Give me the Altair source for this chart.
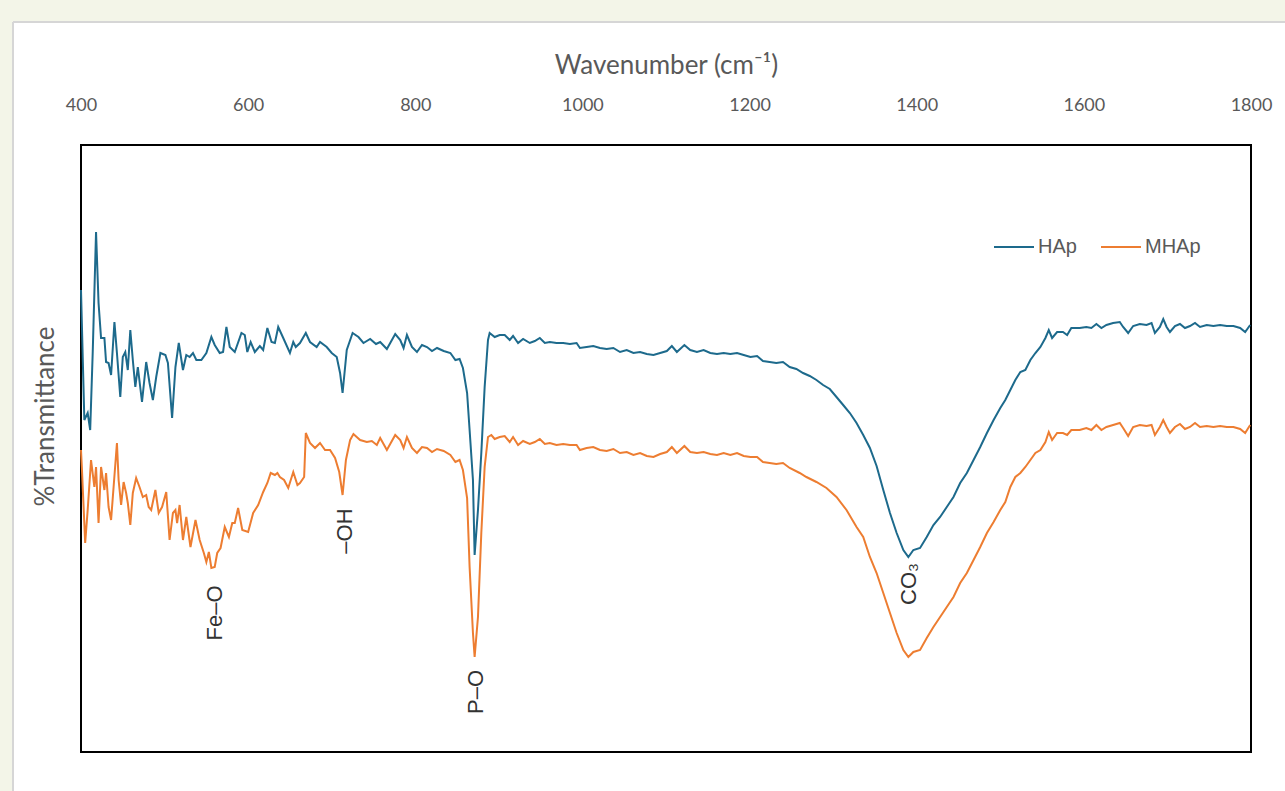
import altair as alt
import pandas as pd

# ---------------- data ----------------
hap_wn = [400, 404, 408, 411, 414, 418, 421, 424, 428, 430,
          433, 436, 440, 443, 447, 450, 453, 456, 459, 462,
          465, 468, 473, 478, 482, 486, 490, 495, 501, 504,
          509, 513, 517, 522, 526, 530, 534, 538, 544, 550,
          556, 560, 566, 570, 574, 578, 584, 592, 596, 599,
          603, 608, 614, 618, 623, 628, 632, 636, 642, 650,
          654, 657, 662, 669, 674, 682, 686, 694, 700, 706,
          710, 713, 718, 725, 732, 738, 746, 753, 758, 766,
          776, 782, 786, 790, 796, 802, 808, 814, 820, 826,
          834, 842, 848, 853, 857, 862, 865, 869, 871, 875,
          879, 883, 887, 889, 895, 901, 907, 913, 917, 923,
          929, 937, 943, 949, 955, 961, 969, 977, 985, 993,
          997, 1005, 1013, 1021, 1029, 1037, 1045, 1053, 1061, 1069,
          1077, 1085, 1093, 1101, 1107, 1113, 1122, 1129, 1137, 1145,
          1153, 1161, 1169, 1177, 1185, 1193, 1201, 1209, 1216, 1224,
          1232, 1240, 1248, 1256, 1264, 1272, 1280, 1288, 1296, 1304,
          1312, 1320, 1328, 1336, 1344, 1352, 1360, 1368, 1376, 1384,
          1390, 1396, 1404, 1412, 1420, 1428, 1436, 1444, 1452, 1460,
          1468, 1476, 1484, 1492, 1500, 1506, 1512, 1518, 1524, 1530,
          1536, 1542, 1548, 1554, 1558, 1562, 1568, 1575, 1580, 1585,
          1595, 1603, 1609, 1615, 1621, 1627, 1635, 1643, 1647, 1653,
          1659, 1667, 1675, 1681, 1685, 1691, 1695, 1699, 1703, 1709,
          1715, 1721, 1727, 1733, 1739, 1747, 1755, 1763, 1771, 1779,
          1787, 1793, 1799]

hap_t = [46.2, 33.2, 33.9, 32.2, 39.9, 52.0, 44.9, 41.4, 41.4, 39.0,
         38.9, 37.7, 43.0, 39.9, 35.5, 39.5, 40.0, 38.2, 42.2, 39.2,
         36.5, 38.5, 35.0, 39.0, 36.9, 35.2, 37.5, 39.9, 39.7, 38.9,
         33.4, 38.5, 40.9, 38.2, 39.7, 39.5, 39.9, 39.2, 39.2, 39.9,
         41.5, 40.7, 39.9, 40.0, 42.5, 40.5, 40.0, 41.9, 41.7, 40.0,
         41.0, 40.0, 40.6, 40.2, 42.4, 41.0, 40.9, 42.5, 41.4, 39.9,
         41.0, 40.5, 40.9, 41.9, 41.0, 40.5, 41.0, 40.5, 39.9, 39.5,
         37.9, 35.9, 40.2, 41.9, 41.5, 40.9, 41.3, 40.8, 41.0, 40.3,
         41.8, 41.2, 40.4, 41.7, 40.5, 40.0, 40.7, 40.5, 40.1, 40.4,
         40.1, 39.9, 39.2, 39.3, 38.4, 35.9, 32.2, 27.2, 19.7, 24.2,
         29.9, 36.5, 41.2, 41.9, 41.5, 41.7, 41.7, 41.2, 41.6, 40.9,
         41.3, 40.9, 41.1, 41.4, 40.9, 41.0, 40.9, 40.9, 40.8, 40.9,
         40.4, 40.5, 40.6, 40.4, 40.3, 40.4, 40.0, 40.2, 39.9, 40.0,
         39.8, 39.7, 39.9, 40.1, 40.6, 40.0, 40.7, 40.2, 40.0, 40.2,
         39.9, 39.8, 39.9, 39.8, 39.9, 39.7, 39.5, 39.6, 39.1, 39.0,
         38.9, 39.0, 38.5, 38.3, 37.9, 37.6, 37.2, 36.7, 36.3, 35.5,
         34.7, 33.9, 32.9, 31.7, 30.4, 28.6, 26.2, 23.9, 21.9, 20.2,
         19.5, 20.2, 20.4, 21.5, 22.7, 23.5, 24.5, 25.5, 26.9, 27.9,
         29.2, 30.5, 31.9, 33.2, 34.4, 35.2, 36.2, 37.2, 38.0, 38.2,
         39.2, 39.9, 40.5, 41.4, 42.2, 41.4, 42.0, 42.0, 41.7, 42.4,
         42.4, 42.5, 42.4, 42.8, 42.4, 42.7, 42.9, 43.0, 42.5, 41.9,
         42.6, 42.8, 42.7, 42.9, 41.9, 42.5, 43.3, 42.5, 42.0, 42.6,
         42.8, 42.4, 42.6, 42.9, 42.5, 42.7, 42.6, 42.7, 42.6, 42.6,
         42.4, 42.0, 42.7]

mhap_wn = [400, 401, 405, 408, 412, 416, 418, 421, 424, 428,
           430, 433, 436, 439, 443, 445, 448, 451, 454, 456,
           459, 462, 466, 470, 474, 478, 481, 484, 489, 493,
           497, 502, 506, 510, 513, 515, 518, 522, 526, 531,
           537, 542, 547, 550, 553, 556, 560, 563, 567, 572,
           577, 581, 584, 588, 593, 600, 606, 612, 618, 623,
           627, 632, 635, 638, 643, 648, 654, 659, 662, 667,
           669, 674, 680, 686, 692, 698, 704, 709, 713, 717,
           722, 726, 734, 742, 748, 754, 758, 766, 776, 782,
           786, 790, 796, 802, 808, 814, 820, 826, 834, 842,
           848, 853, 857, 862, 865, 869, 871, 875, 879, 883,
           887, 891, 895, 901, 907, 913, 917, 923, 929, 937,
           943, 949, 955, 961, 969, 977, 985, 993, 997, 1005,
           1013, 1021, 1029, 1037, 1045, 1053, 1061, 1069, 1077, 1085,
           1093, 1101, 1107, 1113, 1122, 1129, 1137, 1145, 1153, 1161,
           1169, 1177, 1185, 1193, 1201, 1209, 1216, 1224, 1232, 1240,
           1248, 1260, 1268, 1280, 1292, 1304, 1316, 1328, 1336, 1344,
           1352, 1360, 1368, 1376, 1384, 1390, 1396, 1404, 1412, 1420,
           1428, 1436, 1444, 1452, 1460, 1468, 1476, 1484, 1492, 1500,
           1506, 1512, 1518, 1524, 1530, 1536, 1542, 1548, 1554, 1558,
           1562, 1568, 1575, 1580, 1585, 1595, 1603, 1609, 1615, 1621,
           1627, 1635, 1643, 1647, 1653, 1659, 1667, 1675, 1681, 1685,
           1691, 1695, 1699, 1703, 1709, 1715, 1721, 1727, 1733, 1739,
           1747, 1755, 1763, 1771, 1779, 1787, 1793, 1799]

mhap_t = [30.2, 28.5, 20.9, 24.2, 29.2, 26.5, 28.5, 22.9, 28.5, 26.2,
          27.9, 24.5, 23.2, 26.5, 30.9, 27.2, 24.7, 27.0, 25.9, 24.9,
          22.7, 25.9, 27.4, 26.5, 25.5, 25.7, 24.5, 24.2, 26.2, 23.9,
          24.5, 26.0, 21.2, 23.9, 24.2, 22.9, 24.7, 21.2, 23.5, 20.5,
          23.2, 21.2, 19.9, 19.0, 20.0, 18.4, 18.5, 19.9, 20.4, 22.5,
          21.5, 22.9, 22.9, 24.4, 22.2, 22.0, 23.9, 24.7, 26.0, 26.9,
          27.9, 27.7, 27.9, 27.5, 27.2, 26.4, 28.0, 26.7, 26.9, 27.5,
          31.9, 30.9, 30.4, 30.9, 30.2, 30.2, 29.4, 28.0, 25.7, 29.2,
          31.2, 31.8, 31.2, 31.0, 31.1, 30.7, 31.4, 30.2, 31.7, 31.2,
          30.4, 31.5, 30.4, 29.9, 30.5, 30.4, 30.0, 30.3, 30.1, 29.7,
          29.0, 29.2, 28.2, 25.4, 18.5, 11.9, 9.5, 13.5, 21.9, 28.5,
          31.5, 31.7, 31.3, 31.5, 31.6, 31.0, 31.5, 30.7, 31.1, 30.8,
          31.0, 31.3, 30.8, 30.9, 30.7, 30.8, 30.7, 30.7, 30.2, 30.4,
          30.5, 30.2, 30.1, 30.3, 29.9, 30.0, 29.7, 29.9, 29.6, 29.5,
          29.8, 30.0, 30.5, 29.9, 30.6, 30.0, 29.9, 30.0, 29.8, 29.7,
          29.9, 29.7, 29.9, 29.6, 29.5, 29.5, 29.0, 28.9, 28.8, 28.9,
          28.4, 27.9, 27.5, 27.0, 26.4, 25.5, 24.2, 22.5, 21.5, 19.5,
          17.9, 15.9, 13.9, 11.9, 10.2, 9.5, 10.0, 10.2, 11.4, 12.5,
          13.5, 14.5, 15.5, 16.9, 17.9, 19.2, 20.5, 21.9, 23.0, 24.2,
          25.0, 26.5, 27.5, 27.9, 28.5, 29.2, 29.9, 30.2, 31.0, 32.0,
          31.2, 31.9, 31.9, 31.7, 32.2, 32.2, 32.4, 32.2, 32.7, 32.2,
          32.5, 32.7, 32.9, 32.4, 31.6, 32.5, 32.7, 32.6, 32.7, 31.7,
          32.5, 33.2, 32.5, 31.9, 32.5, 32.8, 32.3, 32.5, 32.9, 32.5,
          32.6, 32.5, 32.6, 32.5, 32.5, 32.3, 31.9, 32.7]

series_names = ["HAp", "MHAp"]
series_colors = ["#1d6a8c", "#ed7d31"]

ann_labels = ["Fe\u2013O", "\u2013OH", "P\u2013O", "CO\u2083"]
ann_wn = [560, 716, 873, 1391]
ann_t = [13.9, 22.1, 6.0, 16.8]

x_ticks = [400, 600, 800, 1000, 1200, 1400, 1600, 1800]
x_domain = [400, 1800]
y_domain = [0, 60.7]

# ---------------- tables ----------------
rows = []
for w, t in zip(hap_wn, hap_t):
    rows.append({"wn": w, "t": t, "series": "HAp"})
for w, t in zip(mhap_wn, mhap_t):
    rows.append({"wn": w, "t": t, "series": "MHAp"})
df = pd.DataFrame(rows)

ann_df = pd.DataFrame({"wn": ann_wn, "t": ann_t, "label": ann_labels})

W, H = 1170, 607
GRAY = "#595959"

x_enc = alt.X(
    "wn:Q",
    scale=alt.Scale(domain=x_domain, nice=False, zero=False),
    axis=alt.Axis(
        orient="top", values=x_ticks, format="d", title="Wavenumber (cm\u207b\u00b9)",
        grid=False, ticks=False, tickSize=0, domain=False,
        labelFont="Lato", labelFontSize=18, labelColor=GRAY, labelPadding=35,
        labelFlush=False, labelBaseline="alphabetic",
        titleFont="Lato", titleFontSize=26, titleFontWeight="normal",
        titleColor=GRAY, titleY=-72, titleBaseline="alphabetic", zindex=1,
    ),
)
y_enc = alt.Y(
    "t:Q",
    scale=alt.Scale(domain=y_domain, nice=False, zero=False),
    axis=alt.Axis(
        title="%Transmittance", labels=False, ticks=False, domain=False,
        grid=False, titleFont="Lato", titleFontSize=26,
        titleFontWeight="normal", titleColor=GRAY, titleAngle=270,
        titleX=-36, titleY=271, titleAlign="center", titleBaseline="middle",
        zindex=1,
    ),
)

one = alt.Data(values=[{"a": 1}])
CREAM = "#f3f5e8"
EDGE = "#d6d6d6"

top_strip = alt.Chart(one).mark_rect(color=CREAM).encode(
    x=alt.value(-81), x2=alt.value(W + 34), y=alt.value(-145), y2=alt.value(-123))
left_strip = alt.Chart(one).mark_rect(color=CREAM).encode(
    x=alt.value(-81), x2=alt.value(-68), y=alt.value(-123), y2=alt.value(H + 39))
top_edge = alt.Chart(one).mark_rule(color=EDGE, strokeWidth=2).encode(
    x=alt.value(-68), x2=alt.value(W + 34), y=alt.value(-123))
left_edge = alt.Chart(one).mark_rule(color=EDGE, strokeWidth=2).encode(
    x=alt.value(-68), y=alt.value(-123), y2=alt.value(H + 39))

lines = alt.Chart(df).mark_line(strokeWidth=2).encode(
    x=x_enc,
    y=y_enc,
    color=alt.Color(
        "series:N",
        scale=alt.Scale(domain=series_names, range=series_colors),
        legend=alt.Legend(
            title=None, orient="none", legendX=912, legendY=81,
            direction="horizontal", symbolType="stroke", symbolSize=1600,
            symbolStrokeWidth=2, labelFont="Liberation Sans",
            labelFontSize=20, labelColor=GRAY, columnPadding=20,
            labelOffset=3,
        ),
    ),
    order=alt.Order("wn:Q"),
)

labels = alt.Chart(ann_df).mark_text(
    angle=270, font="Liberation Sans", fontSize=22, color="#333333",
    align="center", baseline="middle",
).encode(x=x_enc, y=y_enc, text="label:N")

chart = alt.layer(top_strip, left_strip, top_edge, left_edge, lines, labels).properties(
    width=W, height=H,
    autosize=alt.AutoSizeParams(type="none"),
    padding={"left": 81, "top": 145, "right": 34, "bottom": 39},
    background="white",
).configure_view(stroke="black", strokeWidth=2)

chart.save("out.html", embed_options={"renderer": "svg", "actions": False})
